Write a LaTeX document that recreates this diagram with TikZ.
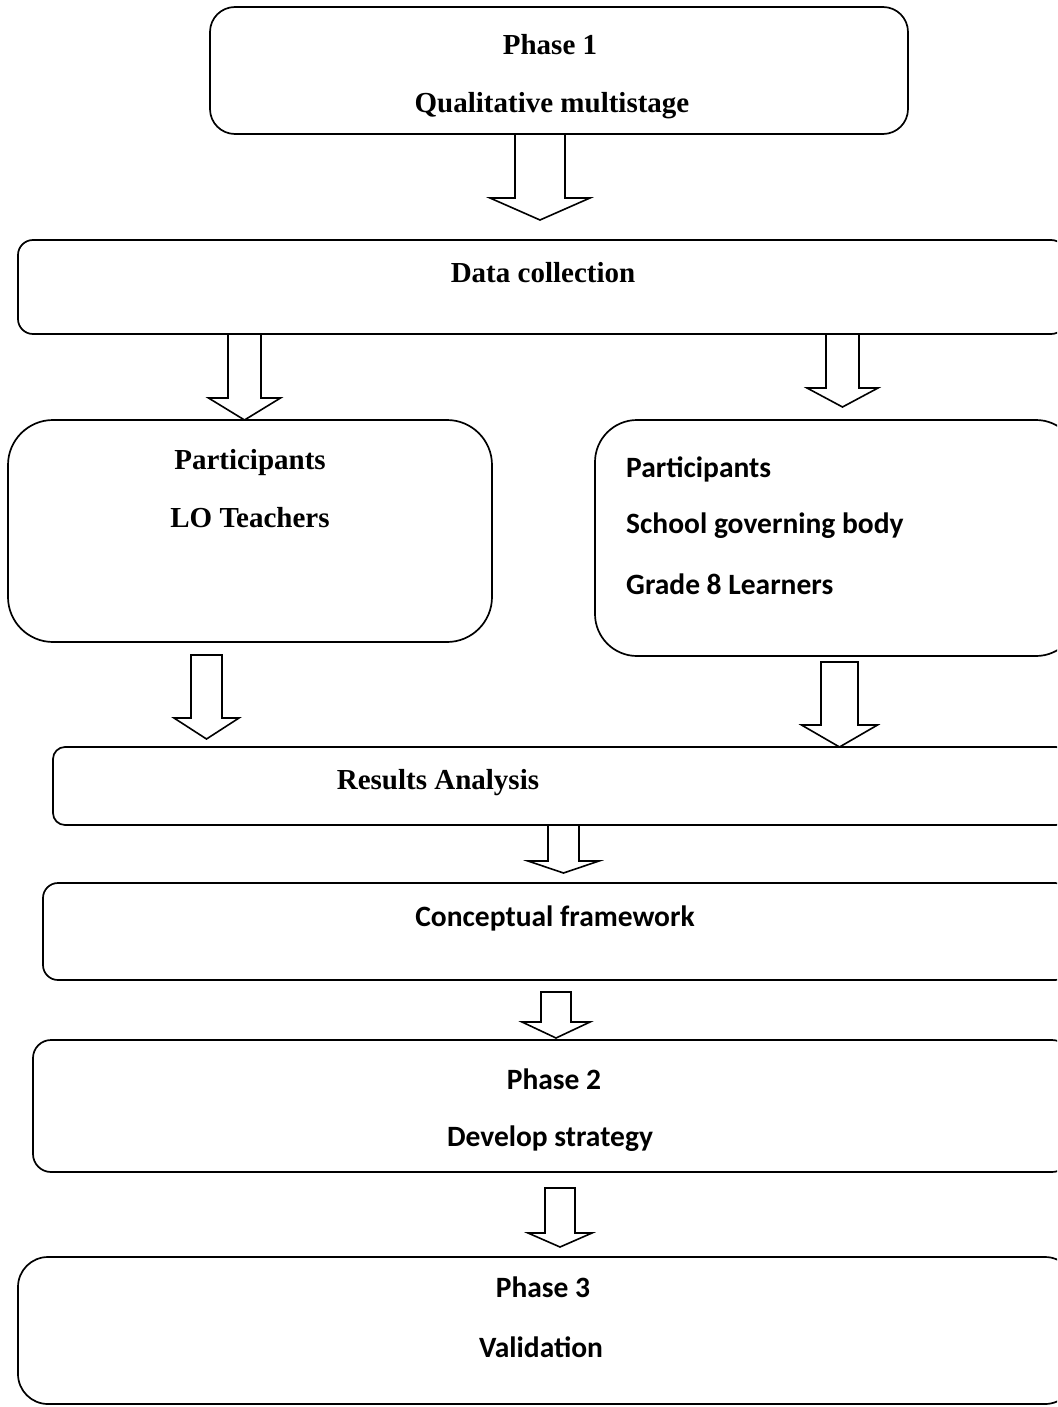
\documentclass[tikz,border=0pt]{standalone}
\usepackage{fontspec}
\setmainfont{Liberation Serif}
\newfontfamily\calfont{Carlito}
\usetikzlibrary{fit}
\tikzset{
  box/.style={draw, line width=1.7pt, rectangle, inner sep=0pt},
  blk/.style={draw, line width=1.6pt, fill=white, line join=miter},
  serif/.style={font=\fontsize{29}{34}\selectfont\bfseries, anchor=mid, inner sep=0pt},
  sans/.style={font=\fontsize{29.5}{34}\selectfont\calfont\bfseries, anchor=mid, inner sep=0pt},
}
\newcommand\blkarrow[6]{%
  \draw[blk] (#1-#5,#2) -- (#1+#5,#2) -- (#1+#5,#3) -- (#1+#6,#3) -- (#1,#4)
    -- (#1-#6,#3) -- (#1-#5,#3) -- cycle;}
\begin{document}
\begin{tikzpicture}[x=1pt,y=-1pt]
\useasboundingbox (0,0) rectangle (1057,1407);
\clip (0,0) rectangle (1057,1407);
% boxes
\node[box, rounded corners=25pt, fit={(210,7) (908,134)}] (p1) {};
\node[box, rounded corners=15pt, fit={(18,240) (1066,334)}] (dc) {};
\node[box, rounded corners=45pt, fit={(8,420) (492,642)}] (pl) {};
\node[box, rounded corners=42pt, fit={(595,420) (1078,656)}] (pr) {};
\node[box, rounded corners=12pt, fit={(53,747) (1068,825)}] (ra) {};
\node[box, rounded corners=15pt, fit={(43,883) (1070,980)}] (cf) {};
\node[box, rounded corners=18pt, fit={(33,1040) (1070,1172)}] (p2) {};
\node[box, rounded corners=30pt, fit={(18,1257) (1075,1404)}] (p3) {};
% block arrows: x, shaft top, head base, tip, half shaft, half head
\blkarrow{540}{134}{198}{220}{25}{50}
\blkarrow{244.5}{334}{398}{420}{16.5}{36}
\blkarrow{842.5}{334}{388}{407}{16.5}{35.5}
\blkarrow{206.5}{655}{718}{739}{15.5}{32.5}
\blkarrow{839.5}{662}{725}{747}{18.5}{38}
\blkarrow{563.5}{825}{861}{873}{15.5}{35.5}
\blkarrow{556}{992}{1022}{1038}{15}{34}
\blkarrow{560}{1188}{1233}{1247}{15}{32}
% texts
\node[serif] (t1a) at (550,52) {Phase 1};
\node[serif] (t1b) at (552,110) {Qualitative multistage};
\node[serif] (t2) at (543,280) {Data collection};
\node[serif] (t3a) at (250,467) {Participants};
\node[serif] (t3b) at (250,525) {LO Teachers};
\node[sans, anchor=west] (t4a) at (626,469) {Participants};
\node[sans, anchor=west] (t4b) at (626,526) {School governing body};
\node[sans, anchor=west] (t4c) at (626,584) {Grade 8 Learners};
\node[serif] (t5) at (438,787) {Results Analysis};
\node[sans] (t6) at (555,924) {Conceptual framework};
\node[sans] (t7a) at (554,1087) {Phase 2};
\node[sans] (t7b) at (550,1144) {Develop strategy};
\node[sans] (t8a) at (543,1295) {Phase 3};
\node[sans] (t8b) at (541,1355) {Validation};
\end{tikzpicture}
\end{document}
